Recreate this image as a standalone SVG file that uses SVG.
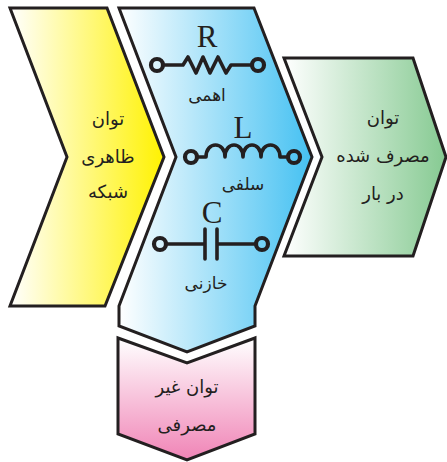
<svg xmlns="http://www.w3.org/2000/svg" width="447" height="462" viewBox="0 0 447 462">
<style>
.shape{stroke:#231f20;stroke-width:3;stroke-linejoin:miter}
.wire{fill:none;stroke:#231f20;stroke-width:3.6;stroke-linecap:round;stroke-linejoin:round}
.term{fill:none;stroke:#231f20;stroke-width:4.2}
.fa{font-family:"DejaVu Sans",sans-serif;font-size:18px;fill:#231f20;text-anchor:middle;direction:rtl}
.sm{font-size:17px}
.sym{font-family:"Liberation Serif",serif;font-size:31px;fill:#231f20;text-anchor:middle}
</style>
<defs>
<linearGradient id="gy" x1="0" x2="1" y1="0" y2="0"><stop offset="0" stop-color="#fff"/><stop offset="1" stop-color="#fff200"/></linearGradient>
<linearGradient id="gb" x1="0" x2="1" y1="0" y2="0"><stop offset="0" stop-color="#fff"/><stop offset="1" stop-color="#45c1f2"/></linearGradient>
<linearGradient id="gg" x1="0" x2="1" y1="0" y2="0"><stop offset="0" stop-color="#fff"/><stop offset="1" stop-color="#86ca92"/></linearGradient>
<linearGradient id="gp" x1="0" x2="0" y1="0" y2="1"><stop offset="0" stop-color="#fff"/><stop offset="1" stop-color="#f084b6"/></linearGradient>
</defs>
<g id="node-apparent">
<path class="shape" fill="url(#gy)" d="M10 8H107L164 157L105 306H10L67 157Z"/>
<text class="fa" x="108" y="125">توان</text>
<text class="fa" x="108" y="163">ظاهری</text>
<text class="fa" x="108" y="198">شبکه</text>
</g>
<g id="node-load">
<path class="shape" fill="url(#gb)" d="M119 8H254L312 157L255 306V326L187 352L119 326V306L176 157Z"/>
<text class="sym" x="207" y="47">R</text>
<circle class="term" cx="157" cy="65" r="6"/>
<circle class="term" cx="258" cy="65" r="6"/>
<path class="wire" d="M163 65H183L188 57L196 73L203 57L210 73L218 57L226 73L231 65H252"/>
<text class="fa sm" x="207" y="101">اهمی</text>
<text class="sym" x="243" y="138">L</text>
<circle class="term" cx="191" cy="157" r="6"/>
<circle class="term" cx="294" cy="157" r="6"/>
<path class="wire" d="M197 157H206C206 141 225 141 225 157C225 141 243 141 243 157C243 141 261 141 261 157C261 141 280 141 280 157H288"/>
<text class="fa sm" x="243" y="190">سلفی</text>
<text class="sym" x="212" y="223">C</text>
<circle class="term" cx="160" cy="244" r="6"/>
<circle class="term" cx="262" cy="244" r="6"/>
<path class="wire" d="M166 244H204M256 244H218"/>
<path class="wire" stroke-width="4.2" d="M205 229V259M217 229V259"/>
<text class="fa sm" x="206" y="289">خازنی</text>
</g>
<g id="node-real">
<path class="shape" fill="url(#gg)" d="M284 58H413L446 157L413 256H284L322 157Z"/>
<text class="fa" x="383" y="124">توان</text>
<text class="fa" x="383" y="162">مصرف شده</text>
<text class="fa" x="383" y="200">در بار</text>
</g>
<g id="node-reactive">
<path class="shape" fill="url(#gp)" d="M118 338L187 363L255 338V434L187 460L118 434Z"/>
<text class="fa" x="187" y="393">توان غیر</text>
<text class="fa" x="187" y="431">مصرفی</text>
</g>
<g id="connectors"></g>
</svg>
